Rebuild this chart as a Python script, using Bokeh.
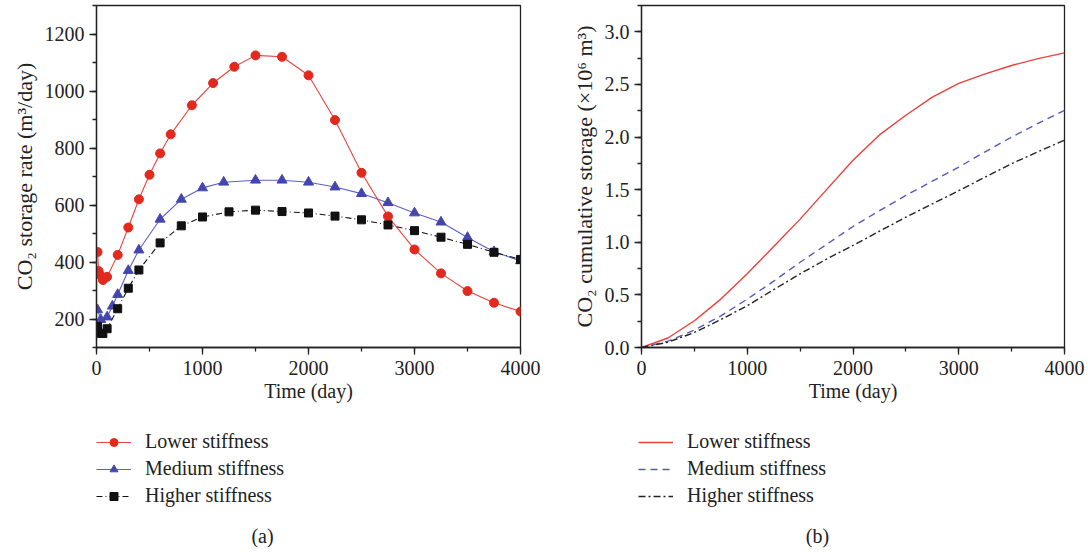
from bokeh.plotting import figure
from bokeh.layouts import row, column
from bokeh.models import (Range1d, SingleIntervalTicker, Legend, LegendItem, Label,
                          NumeralTickFormatter)
from bokeh.embed import file_html
from bokeh.resources import INLINE

# ---------------- data: panel (a) storage rate ----------------
rate_low_day = [10, 20, 30, 60, 100, 200, 300, 400, 500, 600, 700, 900, 1100, 1300, 1500,
                1750, 2000, 2250, 2500, 2750, 3000, 3250, 3500, 3750, 4000]
rate_low = [435, 368, 356, 337, 348, 425, 521, 620, 706, 781, 848, 950, 1028, 1085, 1125,
            1120, 1055, 898, 713, 560, 444, 360, 298, 257, 226]

rate_med_day = [10, 40, 100, 150, 200, 300, 400, 600, 800, 1000, 1200, 1500, 1750, 2000,
                2250, 2500, 2750, 3000, 3250, 3500, 3750, 4000]
rate_med = [232, 198, 207, 245, 286, 370, 442, 550, 620, 660, 680, 687, 687, 680,
            663, 640, 608, 572, 540, 486, 436, 404]

rate_high_day = [10, 30, 60, 100, 200, 300, 400, 600, 800, 1000, 1250, 1500, 1750, 2000,
                 2250, 2500, 2750, 3000, 3250, 3500, 3750, 4000]
rate_high = [174, 150, 149, 166, 236, 308, 372, 467, 527, 558, 576, 582, 577, 572,
             561, 548, 530, 510, 487, 462, 434, 409]

# ---------------- data: panel (b) cumulative storage ----------------
cum_day = [0, 250, 500, 750, 1000, 1250, 1500, 1750, 2000, 2250, 2500, 2750, 3000, 3250,
           3500, 3750, 4000]
cum_low = [0.0, 0.09, 0.254, 0.46, 0.70, 0.96, 1.22, 1.50, 1.78, 2.02, 2.207, 2.38, 2.51,
           2.60, 2.68, 2.745, 2.80]
cum_med = [0.0, 0.06, 0.165, 0.30, 0.46, 0.63, 0.81, 0.98, 1.15, 1.30, 1.445, 1.58, 1.714,
           1.86, 2.0, 2.13, 2.254]
cum_high = [0.0, 0.05, 0.143, 0.265, 0.397, 0.55, 0.70, 0.84, 0.97, 1.105, 1.238, 1.365,
            1.49, 1.62, 1.747, 1.86, 1.97]

labels = ["Lower stiffness", "Medium stiffness", "Higher stiffness"]
captions = ["(a)", "(b)"]

FONT = "Liberation Serif"
DARK = "#222222"
RED = "#e3281e"
RED_LINE = "#e8453c"
BLUE = "#4346ad"
BLUE_LINE = "#5d61c4"
BLACK = "#111111"

TOP_H = 411
BOT_H = 552 - TOP_H


def style(p):
    p.outline_line_color = DARK
    p.outline_line_width = 1.3
    p.grid.visible = False
    p.background_fill_color = "white"
    p.border_fill_color = "white"
    for ax in (p.xaxis[0], p.yaxis[0]):
        ax.axis_line_color = DARK
        ax.axis_line_width = 1.3
        ax.major_tick_line_color = DARK
        ax.minor_tick_line_color = DARK
        ax.major_tick_line_width = 1.3
        ax.minor_tick_line_width = 1.3
        ax.major_tick_out = 7
        ax.major_tick_in = 0
        ax.minor_tick_out = 4
        ax.minor_tick_in = 0
        ax.major_label_text_font = FONT
        ax.major_label_text_font_size = "20px"
        ax.major_label_text_color = DARK
        ax.axis_label_text_font = FONT
        ax.axis_label_text_font_style = "normal"
        ax.axis_label_text_color = DARK
    p.xaxis[0].axis_label = "Time (day)"
    p.xaxis[0].axis_label_text_font_size = "20px"
    p.xaxis[0].axis_label_standoff = 2
    p.yaxis[0].axis_label_text_font_size = "22px"
    p.xaxis[0].ticker = SingleIntervalTicker(interval=1000, num_minor_ticks=2)
    p.xaxis[0].major_label_standoff = 6


def legend_fig(caption, cap_x):
    q = figure(width=544, height=BOT_H, output_backend="svg", toolbar_location=None,
               x_range=Range1d(0, 1), y_range=Range1d(0, 1),
               x_axis_location=None, y_axis_location=None,
               min_border=0)
    q.outline_line_color = None
    q.grid.visible = False
    q.add_layout(Label(x=cap_x, y=17, x_units="screen", y_units="screen", text=caption,
                       text_align="center", text_baseline="middle", text_font=FONT,
                       text_font_size="20px", text_color=DARK))
    return q


def add_legend(q, items, dx):
    lg = Legend(items=items, location=(dx, 45), orientation="vertical",
                glyph_width=35, glyph_height=20, label_standoff=14, spacing=4,
                padding=0, margin=0, label_height=20,
                border_line_alpha=0, background_fill_alpha=0,
                inactive_fill_alpha=0,
                label_text_font=FONT, label_text_font_size="20px",
                label_text_color=DARK)
    q.add_layout(lg, "center")


# ---------------- panel (a) ----------------
p1 = figure(width=544, height=TOP_H, output_backend="svg", toolbar_location=None,
            x_range=Range1d(0, 4000), y_range=Range1d(100, 1300),
            min_border_left=96, min_border_right=24, min_border_top=5, min_border_bottom=62)
style(p1)
p1.yaxis[0].ticker = SingleIntervalTicker(interval=200, num_minor_ticks=2)
p1.yaxis[0].axis_label = "CO₂ storage rate (m³/day)"

sty_low = dict(line_color=RED_LINE, line_width=1.1)
sty_med = dict(line_color=BLUE_LINE, line_width=1.1)
sty_high = dict(line_color=BLACK, line_width=1.1, line_dash="6 3 1 3")
mk_low = dict(marker="circle", size=9, fill_color=RED, line_color=RED)
mk_med = dict(marker="triangle", size=10, fill_color=BLUE, line_color=BLUE)
mk_high = dict(marker="square", size=8, fill_color=BLACK, line_color=BLACK)

p1.line(rate_low_day, rate_low, **sty_low)
p1.scatter(rate_low_day, rate_low, **mk_low)
p1.line(rate_med_day, rate_med, **sty_med)
p1.scatter(rate_med_day, rate_med, **mk_med)
p1.line(rate_high_day, rate_high, **sty_high)
p1.scatter(rate_high_day, rate_high, **mk_high)

q1 = legend_fig(captions[0], 262)
k1 = [q1.line(rate_low_day, rate_low, visible=False, **sty_low),
      q1.scatter(rate_low_day, rate_low, visible=False, **mk_low)]
k2 = [q1.line(rate_med_day, rate_med, visible=False, **sty_med),
      q1.scatter(rate_med_day, rate_med, visible=False, **mk_med)]
k3 = [q1.line(rate_high_day, rate_high, visible=False, **sty_high),
      q1.scatter(rate_high_day, rate_high, visible=False, **mk_high)]
add_legend(q1, [LegendItem(label=labels[0], renderers=k1),
                LegendItem(label=labels[1], renderers=k2),
                LegendItem(label=labels[2], renderers=k3)], 96)

# ---------------- panel (b) ----------------
p2 = figure(width=544, height=TOP_H, output_backend="svg", toolbar_location=None,
            x_range=Range1d(0, 4000), y_range=Range1d(0, 3.25),
            min_border_left=97, min_border_right=24, min_border_top=5, min_border_bottom=64)
style(p2)
p2.yaxis[0].ticker = SingleIntervalTicker(interval=0.5, num_minor_ticks=2)
p2.yaxis[0].formatter = NumeralTickFormatter(format="0.0")
p2.yaxis[0].axis_label = "CO₂ cumulative storage (×10⁶ m³)"

cs_low = dict(line_color="#e8413a", line_width=1.4)
cs_med = dict(line_color="#5458c0", line_width=1.4, line_dash="7 5")
cs_high = dict(line_color="#222222", line_width=1.4, line_dash="7 3 2 3")
p2.line(cum_day, cum_low, **cs_low)
p2.line(cum_day, cum_med, **cs_med)
p2.line(cum_day, cum_high, **cs_high)

q2 = legend_fig(captions[1], 273)
j1 = q2.line(cum_day, cum_low, visible=False, **cs_low)
j2 = q2.line(cum_day, cum_med, visible=False, **cs_med)
j3 = q2.line(cum_day, cum_high, visible=False, **cs_high)
add_legend(q2, [LegendItem(label=labels[0], renderers=[j1]),
                LegendItem(label=labels[1], renderers=[j2]),
                LegendItem(label=labels[2], renderers=[j3])], 94)

layout = column(row(p1, p2), row(q1, q2))
open("out.html", "w").write(file_html(layout, INLINE))
